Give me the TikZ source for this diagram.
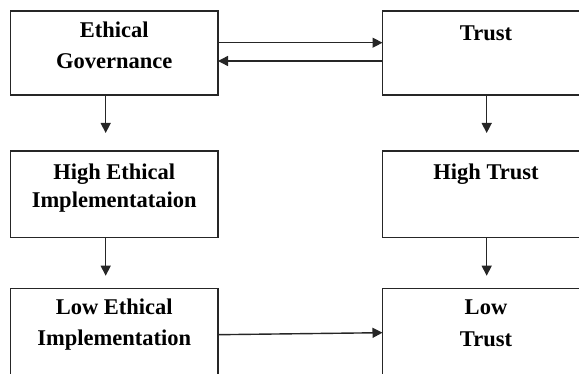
\documentclass[tikz,border=0pt]{standalone}
\usepackage{fontspec}
\setmainfont{Liberation Serif}
\usetikzlibrary{arrows.meta}
\begin{document}
\begin{tikzpicture}[x=1pt,y=-1pt,
  box/.style={draw=black!85, line width=1.2pt, minimum width=207.5pt, minimum height=#1, anchor=north west, inner sep=0pt, outer sep=0pt},
  lbl/.style={font=\bfseries\fontsize{22.5}{#1}\selectfont, align=center, anchor=base, inner sep=0pt},
  lbl/.default=31,
  arr/.style={line width=1.4pt, draw=black!85, -{Triangle[length=10pt,width=10pt]}}]
\clip (0,0) rectangle (579,374);
% boxes
\node[box=84] (eg) at (10.5,11) {};
\node[box=84] (tr) at (382.5,11) {};
\node[box=86.5] (he) at (10.5,151) {};
\node[box=86.5] (ht) at (382.5,151) {};
\node[box=90] (le) at (10.5,288.5) {};
\node[box=90] (lt) at (382.5,288.5) {};
% labels (anchor = baseline of last line)
\node[lbl] (egt) at (114.25,69) {Ethical\\Governance};
\node[lbl] (trt) at (486,40.5) {Trust};
\node[lbl=28] (het) at (114.25,208) {High Ethical\\Implementataion};
\node[lbl] (htt) at (486,180) {High Trust};
\node[lbl] (let) at (114.25,345.5) {Low Ethical\\Implementation};
\node[lbl=32] (ltt) at (486,346.5) {Low\\Trust};
% free ends and levels
\coordinate (c1) at (105.7,133);
\coordinate (c2) at (486.7,133);
\coordinate (c3) at (105.7,275.7);
\coordinate (c4) at (486.7,275.7);
\coordinate (y1) at (0,42.7);
\coordinate (y2) at (0,61);
\coordinate (y3) at (0,334.7);
\coordinate (y4) at (0,332.7);
% connectors
\draw[arr] (c1 |- eg.south) -- (c1);
\draw[arr] (c2 |- tr.south) -- (c2);
\draw[arr] (c3 |- he.south) -- (c3);
\draw[arr] (c4 |- ht.south) -- (c4);
\draw[arr] (eg.east |- y1) -- (tr.west |- y1);
\draw[arr] (tr.west |- y2) -- (eg.east |- y2);
\draw[arr] (le.east |- y3) -- (lt.west |- y4);
\end{tikzpicture}
\end{document}
